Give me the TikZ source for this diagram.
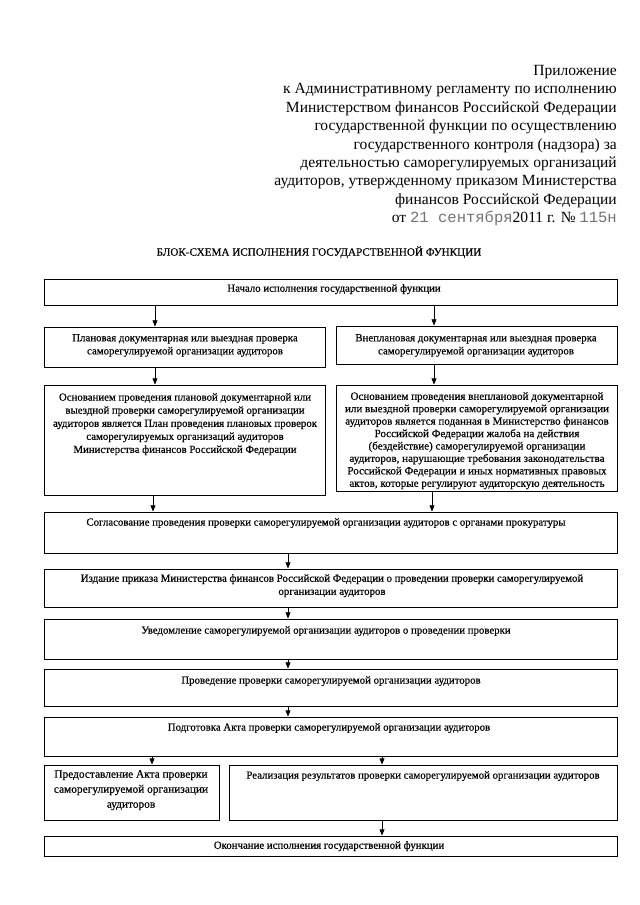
\documentclass[tikz,border=0pt]{standalone}
\usepackage{fontspec}
\setmainfont{Liberation Serif}
\newfontfamily\boxfont[FakeBold=0.4]{Liberation Serif}
\newfontfamily\stampfont{Liberation Mono}
\usetikzlibrary{arrows.meta,fit}
\definecolor{stampgray}{gray}{0.45}
\begin{document}
\begin{tikzpicture}[x=0.328mm,y=-0.328mm,
  box/.style={draw, line width=0.9pt, inner sep=0pt},
  txt/.style={inner sep=0pt, align=center, anchor=north, font=\boxfont\fontsize{10.1}{12.2}\selectfont},
  head/.style={inner sep=0pt, align=right, anchor=north east, font=\fontsize{14.5}{17.2}\selectfont},
  arr/.style={line width=0.6pt, -{Triangle[length=2mm,width=1.6mm]}}]
\useasboundingbox (0,0) rectangle (640,905);
\fill[white] (0,0) rectangle (640,905);

% header
\node[head] (hdr) at (617,65) {Приложение\\
к Административному регламенту по исполнению\\
Министерством финансов Российской Федерации\\
государственной функции по осуществлению\\
государственного контроля (надзора) за\\
деятельностью саморегулируемых организаций\\
аудиторов, утвержденному приказом Министерства\\
финансов Российской Федерации\\
от {\stampfont\color{stampgray}21 сентября}2011 г. № {\stampfont\color{stampgray}115н}};

\node[txt, font=\boxfont\fontsize{10.4}{12}\selectfont] (title) at (319,246) {БЛОК-СХЕМА ИСПОЛНЕНИЯ ГОСУДАРСТВЕННОЙ ФУНКЦИИ};

% boxes
\coordinate (a1) at (44,279);  \coordinate (b1) at (617,305);
\node[box, fit=(a1)(b1)] (start) {};
\coordinate (a2) at (44,327);  \coordinate (b2) at (325,367);
\node[box, fit=(a2)(b2)] (plan) {};
\coordinate (a3) at (336,326); \coordinate (b3) at (617,364);
\node[box, fit=(a3)(b3)] (unplan) {};
\coordinate (a4) at (44,385);  \coordinate (b4) at (325,495);
\node[box, fit=(a4)(b4)] (planbasis) {};
\coordinate (a5) at (336,385); \coordinate (b5) at (617,491);
\node[box, fit=(a5)(b5)] (unplanbasis) {};
\coordinate (a6) at (44,512);  \coordinate (b6) at (617,553);
\node[box, fit=(a6)(b6)] (agree) {};
\coordinate (a7) at (44,569);  \coordinate (b7) at (617,607);
\node[box, fit=(a7)(b7)] (order) {};
\coordinate (a8) at (44,619);  \coordinate (b8) at (617,659);
\node[box, fit=(a8)(b8)] (notify) {};
\coordinate (a9) at (44,669);  \coordinate (b9) at (617,706);
\node[box, fit=(a9)(b9)] (conduct) {};
\coordinate (a10) at (44,717); \coordinate (b10) at (617,756);
\node[box, fit=(a10)(b10)] (prepare) {};
\coordinate (a11) at (44,765); \coordinate (b11) at (219,820);
\node[box, fit=(a11)(b11)] (provide) {};
\coordinate (a12) at (229,765); \coordinate (b12) at (617,820);
\node[box, fit=(a12)(b12)] (realize) {};
\coordinate (a13) at (44,836); \coordinate (b13) at (617,856);
\node[box, fit=(a13)(b13)] (finish) {};

% texts
\node[txt] (t1) at (334,284) {Начало исполнения государственной функции};
\node[txt] (t2) at (185,334) {Плановая документарная или выездная проверка\\саморегулируемой организации аудиторов};
\node[txt] (t3) at (476,334) {Внеплановая документарная или выездная проверка\\саморегулируемой организации аудиторов};
\node[txt] (t4) at (185,393) {Основанием проведения плановой документарной или\\
выездной проверки саморегулируемой организации\\
аудиторов является План проведения плановых проверок\\
саморегулируемых организаций аудиторов\\
Министерства финансов Российской Федерации};
\node[txt, font=\boxfont\fontsize{10.3}{11.6}\selectfont] (t5) at (477,392) {Основанием проведения внеплановой документарной\\
или выездной проверки саморегулируемой организации\\
аудиторов является поданная в Министерство финансов\\
Российской Федерации жалоба на действия\\
(бездействие) саморегулируемой организации\\
аудиторов, нарушающие требования законодательства\\
Российской Федерации и иных нормативных правовых\\
актов, которые регулируют аудиторскую деятельность};
\node[txt] (t6) at (326,518) {Согласование проведения проверки саморегулируемой организации аудиторов с органами прокуратуры};
\node[txt] (t7) at (332,574) {Издание приказа Министерства финансов Российской Федерации о проведении проверки саморегулируемой\\организации аудиторов};
\node[txt] (t8) at (326,626) {Уведомление саморегулируемой организации аудиторов о проведении проверки};
\node[txt] (t9) at (331,676) {Проведение проверки саморегулируемой организации аудиторов};
\node[txt] (t10) at (329,723) {Подготовка Акта проверки саморегулируемой организации аудиторов};
\node[txt, font=\boxfont\fontsize{10.6}{14}\selectfont] (t11) at (131,770) {Предоставление Акта проверки\\саморегулируемой организации\\аудиторов};
\node[txt] (t12) at (423,771) {Реализация результатов проверки саморегулируемой организации аудиторов};
\node[txt] (t13) at (329,841) {Окончание исполнения государственной функции};

% arrow columns
\coordinate (xl) at (155,0);
\coordinate (xr) at (434,0);
\coordinate (xl2) at (153,0);
\coordinate (xr2) at (432,0);
\coordinate (xc) at (288,0);
\coordinate (xb) at (152,0);
\coordinate (xd) at (382,0);

\draw[arr] (start.south -| xl) -- (plan.north -| xl);
\draw[arr] (start.south -| xr) -- (unplan.north -| xr);
\draw[arr] (plan.south -| xl) -- (planbasis.north -| xl);
\draw[arr] (unplan.south -| xr) -- (unplanbasis.north -| xr);
\draw[arr] (planbasis.south -| xl2) -- (agree.north -| xl2);
\draw[arr] (unplanbasis.south -| xr2) -- (agree.north -| xr2);
\draw[arr] (agree.south -| xc) -- (order.north -| xc);
\draw[arr] (order.south -| xc) -- (notify.north -| xc);
\draw[arr] (notify.south -| xc) -- (conduct.north -| xc);
\draw[arr] (conduct.south -| xc) -- (prepare.north -| xc);
\draw[arr] (prepare.south -| xb) -- (provide.north -| xb);
\draw[arr] (prepare.south -| xd) -- (realize.north -| xd);
\draw[arr] (realize.south -| xd) -- (finish.north -| xd);
\end{tikzpicture}
\end{document}
